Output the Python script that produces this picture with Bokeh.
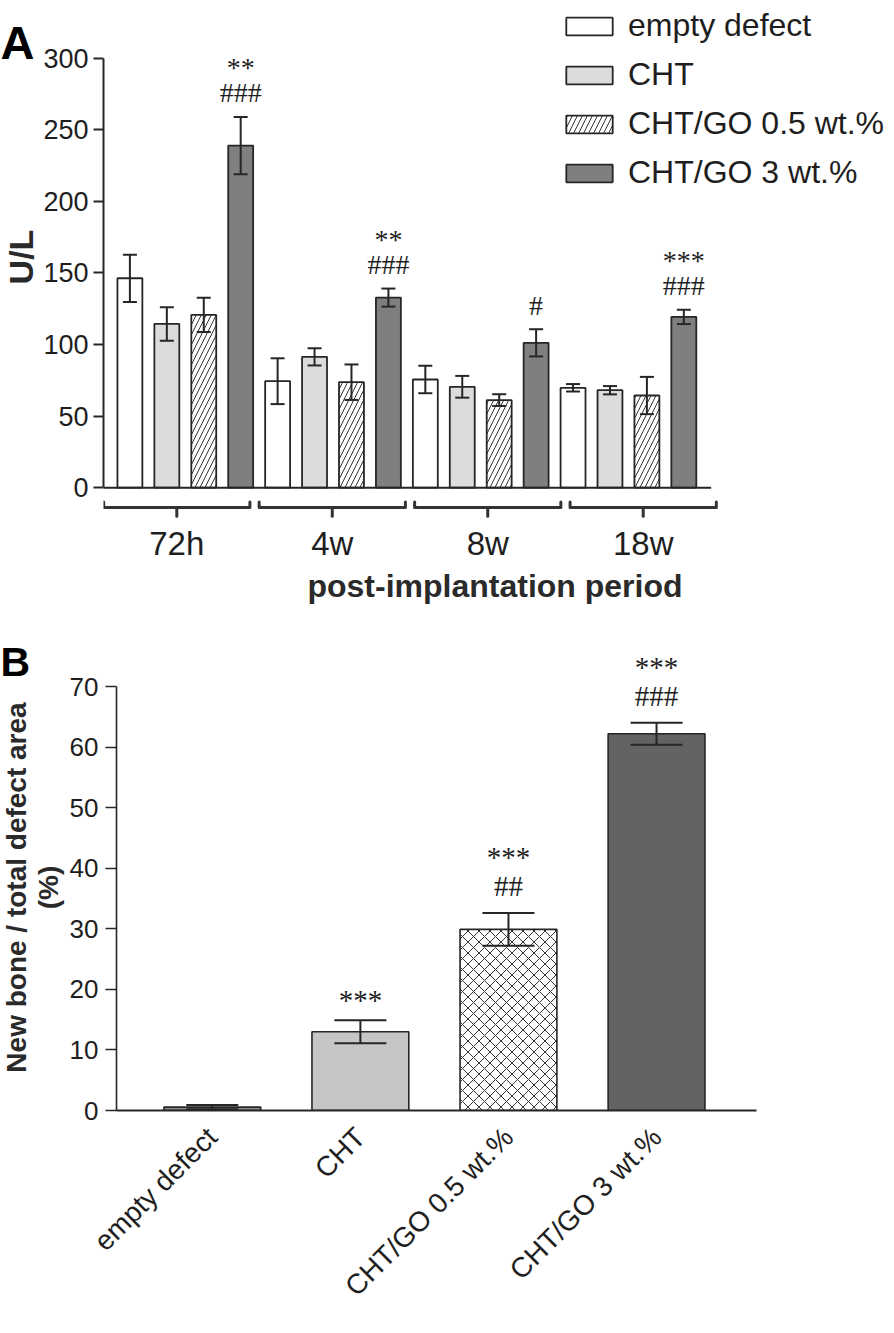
import math
from bokeh.plotting import figure
from bokeh.models import (ColumnDataSource, FixedTicker, Whisker, TeeHead, LabelSet,
                          Legend, LegendItem, Range1d)
from bokeh.layouts import column, row
from bokeh.core.properties import value
from bokeh.embed import file_html
from bokeh.resources import INLINE

# ---------------- data: panel A ----------------
periods = ["72h", "4w", "8w", "18w"]
groups = ["empty defect", "CHT", "CHT/GO 0.5 wt.%", "CHT/GO 3 wt.%"]
a_empty = [146.3, 74.4, 75.6, 69.8]
a_empty_err = [16.5, 16.0, 9.6, 2.6]
a_cht = [114.4, 91.4, 70.5, 68.1]
a_cht_err = [11.7, 6.0, 7.6, 2.9]
a_go05 = [120.7, 73.7, 61.2, 64.4]
a_go05_err = [12.0, 12.4, 4.1, 13.0]
a_go3 = [239.0, 132.8, 101.2, 119.3]
a_go3_err = [20.0, 6.3, 9.5, 5.0]
a_go3_stars = ["**", "**", "", "***"]
a_go3_hashes = ["###", "###", "#", "###"]
a_yticks = [0, 50, 100, 150, 200, 250, 300]
a_ylabel = "U/L"
a_xlabel = "post-implantation period"

# ---------------- data: panel B ----------------
b_values = [0.55, 13.0, 29.9, 62.2]
b_err = [0.35, 1.9, 2.7, 1.8]
b_stars = ["", "***", "***", "***"]
b_hashes = ["", "", "##", "###"]
b_yticks = [0, 10, 20, 30, 40, 50, 60, 70]
b_ylabel = ["New bone / total defect area", "(%)"]

# ---------------- styles ----------------
INK = "#1e1e1e"
EDGE = "#262626"
SANS = "Liberation Sans"
a_styles = [
    dict(fill_color="white"),
    dict(fill_color="#dcdcdc"),
    dict(fill_color="white", hatch_pattern="/", hatch_scale=10, hatch_weight=1, hatch_color="#333333"),
    dict(fill_color="#7f7f7f"),
]
b_styles = [
    dict(fill_color="#8f8f8f"),
    dict(fill_color="#c6c6c6"),
    dict(fill_color="white", hatch_pattern="x", hatch_scale=11, hatch_weight=1, hatch_color="#333333"),
    dict(fill_color="#636363"),
]


def gutter(width, height, top, bottom):
    # a text-only strip whose frame lines up with the neighbouring plot frame
    frame_h = height - top - bottom
    g = figure(width=width, height=height, output_backend="svg", toolbar_location=None,
               x_range=Range1d(0, width), y_range=Range1d(0, frame_h),
               x_axis_type=None, y_axis_type=None,
               min_border_left=0, min_border_right=0, min_border_top=top, min_border_bottom=bottom)
    g.outline_line_color = None
    return g, frame_h


# ================= Panel A =================
A_H = 606
GA_W = 40
A_W = 886 - GA_W
A_FRAME_H = 521
A_LEFT, A_RIGHT, A_TOP, A_BOTTOM = 60, 0, 0, A_H - A_FRAME_H
A_PX = 37.07  # px per bar slot
A_X0 = -0.715
A_FRAME_W = A_W - A_LEFT - A_RIGHT
pA = figure(width=A_W, height=A_H, output_backend="svg", toolbar_location=None,
            x_range=(A_X0, A_X0 + A_FRAME_W / A_PX), y_range=(-21.5, 340.3),
            min_border_left=A_LEFT, min_border_right=A_RIGHT,
            min_border_top=A_TOP, min_border_bottom=A_BOTTOM)
pA.outline_line_color = None
pA.xgrid.visible = False
pA.ygrid.visible = False

bar_w_A = 0.675
series_A = [(a_empty, a_empty_err), (a_cht, a_cht_err), (a_go05, a_go05_err), (a_go3, a_go3_err)]
renderers_A = []
for s, ((vals, errs), st) in enumerate(zip(series_A, a_styles)):
    src = ColumnDataSource(dict(
        x=[4 * i + s for i in range(len(periods))],
        top=vals,
        up=[v + e for v, e in zip(vals, errs)],
        lo=[v - e for v, e in zip(vals, errs)],
    ))
    r = pA.vbar(x="x", top="top", bottom=0, width=bar_w_A, source=src,
                line_color=EDGE, line_width=1.8, **st)
    renderers_A.append(r)
    pA.add_layout(Whisker(source=src, base="x", upper="up", lower="lo", line_color=EDGE, line_width=2,
                          upper_head=TeeHead(size=14, line_color=EDGE, line_width=2),
                          lower_head=TeeHead(size=14, line_color=EDGE, line_width=2), level="overlay"))
    if s == 3:
        hx, hy, ht, ho = [], [], [], []
        for i in range(len(periods)):
            top_i = vals[i] + errs[i]
            lines = [(t, k) for t, k in ((a_go3_hashes[i], "h"), (a_go3_stars[i], "s")) if t]
            for n, (t, k) in enumerate(lines):
                off = 24 + 32 * n - (7 if k == "s" else 0)
                hx.append(4 * i + s); hy.append(top_i); ht.append(t); ho.append(off)
        ann = ColumnDataSource(dict(x=hx, y=hy, text=ht, off=ho))
        pA.add_layout(LabelSet(source=ann, x="x", y="y", text="text", y_offset="off",
                               text_align="center", text_baseline="middle",
                               text_font=SANS, text_font_size="28px", text_color=INK))

# baseline (x axis line at y = 0)
pA.segment(x0=[A_X0], y0=[0], x1=[4 * len(periods) - 1 + 0.74], y1=[0],
           line_color=EDGE, line_width=2)

# group brackets
br_c = [round(1.27 + 4.21 * g, 2) for g in range(len(periods))]
br_h = 1.98
y_line, y_end, y_tick = -13.9, -10.0, -20.0
xs, ys = [], []
for c in br_c:
    xs.append([c - br_h, c - br_h, c + br_h, c + br_h]); ys.append([y_end, y_line, y_line, y_end])
    xs.append([c, c]); ys.append([y_line, y_tick])
pA.multi_line(xs=xs, ys=ys, line_color="#333333", line_width=3, line_join="round", line_cap="round")

ya = pA.yaxis[0]
ya.ticker = FixedTicker(ticks=a_yticks)
ya.bounds = (0, 300)
ya.axis_line_width = 2
ya.axis_line_color = EDGE
ya.major_tick_line_width = 2
ya.major_tick_line_color = EDGE
ya.major_tick_out = 10
ya.major_tick_in = 0
ya.minor_tick_line_color = None
ya.major_label_standoff = 5
ya.major_label_text_font = SANS
ya.major_label_text_font_size = "27px"
ya.major_label_text_color = INK

xa = pA.xaxis[0]
xa.ticker = FixedTicker(ticks=br_c)
xa.major_label_overrides = {c: lab for c, lab in zip(br_c, periods)}
xa.axis_line_color = None
xa.major_tick_line_color = None
xa.minor_tick_line_color = None
xa.major_label_standoff = 0
xa.major_label_text_font = SANS
xa.major_label_text_font_size = "33px"
xa.major_label_text_color = INK
xa.axis_label = a_xlabel
xa.axis_label_text_font = SANS
xa.axis_label_text_font_style = "bold"
xa.axis_label_text_font_size = "32px"
xa.axis_label_text_color = "#2a2a2a"
xa.axis_label_standoff = 3

legend = Legend(items=[LegendItem(label=g, renderers=[r]) for g, r in zip(groups, renderers_A)],
                location=(457, A_FRAME_H - 194), orientation="vertical",
                glyph_width=58, glyph_height=22, label_standoff=10, spacing=12,
                padding=0, margin=0, border_line_color=None, background_fill_alpha=0,
                label_text_font=SANS, label_text_font_size="32px", label_text_color=INK)
pA.add_layout(legend)

gA, gA_h = gutter(GA_W, A_H, A_TOP, A_BOTTOM)
gA.text(x=[0], y=[gA_h - 42], text=["A"], text_align="left", text_baseline="alphabetic",
        text_font=value(SANS), text_font_style="bold", text_font_size="47px", text_color="black")
gA.text(x=[20], y=[gA_h - 258], text=[a_ylabel], angle=math.pi / 2, text_align="center",
        text_baseline="middle", text_font=value(SANS), text_font_style="bold",
        text_font_size="34px", text_color="#2a2a2a")

# ================= Panel B =================
B_H = 1317 - A_H
GB_W = 66
B_W = 886 - GB_W
B_LEFT, B_RIGHT, B_TOP = 49, 130, 0
B_Y70, B_Y0 = 80, 504          # frame px of the 70 tick and of 0
B_BOTTOM = B_H - B_Y0
B_PX = (B_Y0 - B_Y70) / 70.0
pB = figure(width=B_W, height=B_H, output_backend="svg", toolbar_location=None,
            x_range=(-0.647, 3.675), y_range=(0, 70 + B_Y70 / B_PX),
            min_border_left=B_LEFT, min_border_right=B_RIGHT,
            min_border_top=B_TOP, min_border_bottom=B_BOTTOM)
pB.outline_line_color = None
pB.xgrid.visible = False
pB.ygrid.visible = False

bar_w_B = 0.654
for i, st in enumerate(b_styles):
    src = ColumnDataSource(dict(x=[i], top=[b_values[i]], up=[b_values[i] + b_err[i]],
                                lo=[b_values[i] - b_err[i]]))
    pB.vbar(x="x", top="top", bottom=0, width=bar_w_B, source=src,
            line_color=EDGE, line_width=1.6, **st)
    pB.add_layout(Whisker(source=src, base="x", upper="up", lower="lo", line_color=EDGE, line_width=2,
                          upper_head=TeeHead(size=52, line_color=EDGE, line_width=2),
                          lower_head=TeeHead(size=52, line_color=EDGE, line_width=2), level="overlay"))

bx, by, bt, bo = [], [], [], []
for i in range(len(groups)):
    top_i = b_values[i] + b_err[i]
    lines = [(t, k) for t, k in ((b_hashes[i], "h"), (b_stars[i], "s")) if t]
    for n, (t, k) in enumerate(lines):
        off = 27 + 36 * n - (7 if k == "s" else 0)
        bx.append(i); by.append(top_i); bt.append(t); bo.append(off)
annB = ColumnDataSource(dict(x=bx, y=by, text=bt, off=bo))
pB.add_layout(LabelSet(source=annB, x="x", y="y", text="text", y_offset="off",
                       text_align="center", text_baseline="middle",
                       text_font=SANS, text_font_size="29px", text_color=INK))

yb = pB.yaxis[0]
yb.ticker = FixedTicker(ticks=b_yticks)
yb.bounds = (0, 70)
yb.axis_line_width = 1.6
yb.axis_line_color = EDGE
yb.major_tick_line_width = 1.6
yb.major_tick_line_color = EDGE
yb.major_tick_out = 11
yb.major_tick_in = 0
yb.minor_tick_line_color = None
yb.major_label_standoff = 7
yb.major_label_text_font = SANS
yb.major_label_text_font_size = "26px"
yb.major_label_text_color = INK

xb = pB.xaxis[0]
xb.ticker = FixedTicker(ticks=list(range(len(groups))))
xb.major_label_overrides = {i: g for i, g in enumerate(groups)}
xb.major_label_orientation = math.pi / 4
xb.axis_line_width = 2
xb.axis_line_color = EDGE
xb.major_tick_line_color = None
xb.minor_tick_line_color = None
xb.major_label_standoff = 16
xb.major_label_text_font = SANS
xb.major_label_text_font_size = "28px"
xb.major_label_text_color = INK

gB, gB_h = gutter(GB_W, B_H, B_TOP, B_BOTTOM)
gB.text(x=[0], y=[gB_h - 55], text=["B"], text_align="left", text_baseline="alphabetic",
        text_font=value(SANS), text_font_style="bold", text_font_size="41px", text_color="black")
gB.text(x=[16, 48], y=[gB_h - 281] * 2, text=b_ylabel, angle=math.pi / 2,
        text_align="center", text_baseline="middle", text_font=value(SANS),
        text_font_style="bold", text_font_size="28px", text_color="#2a2a2a")

layout = column(row(gA, pA, spacing=0), row(gB, pB, spacing=0), spacing=0)
open("out.html", "w").write(file_html(layout, INLINE))
